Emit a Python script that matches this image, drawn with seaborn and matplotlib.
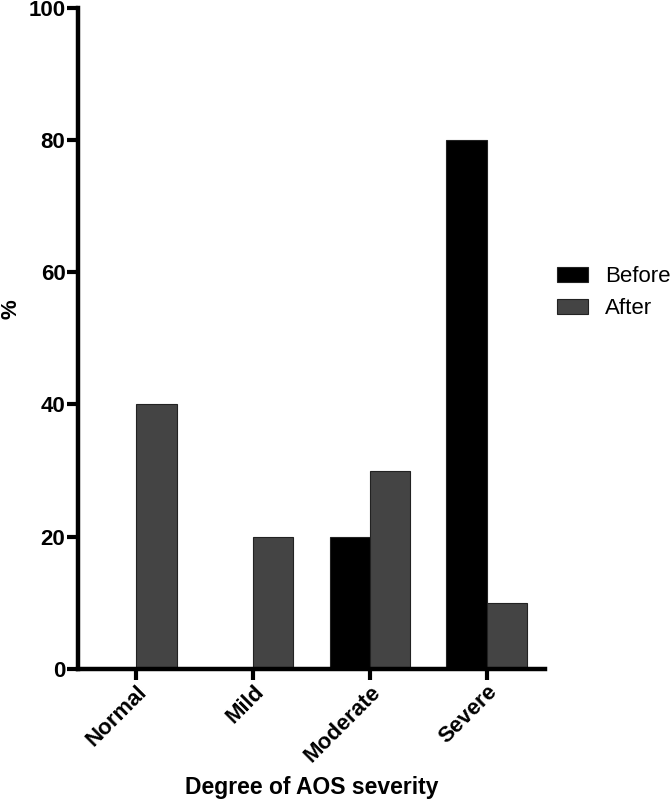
import numpy as np
import pandas as pd
import matplotlib
matplotlib.use("Agg")
import matplotlib.pyplot as plt
import seaborn as sns

categories = ["Normal", "Mild", "Moderate", "Severe"]
before = [0, 0, 20, 80]
after = [40, 20, 30, 10]
groups = ["Before", "After"]

df = pd.DataFrame({
    "category": categories * 2,
    "value": before + after,
    "group": ["Before"] * 4 + ["After"] * 4,
})

sns.set_style("white")
plt.rcParams["font.family"] = ["Liberation Sans", "DejaVu Sans"]
plt.rcParams["text.color"] = "black"
plt.rcParams["axes.labelcolor"] = "black"
plt.rcParams["xtick.color"] = "black"
plt.rcParams["ytick.color"] = "black"

fig = plt.figure(figsize=(6.72, 8), dpi=100)
ax = fig.add_axes([0.116, 0.164, 0.695, 0.826])

sns.barplot(data=df, x="category", y="value", hue="group", hue_order=groups,
            palette={"Before": "#000000", "After": "#444444"},
            width=0.69, edgecolor="#222222", linewidth=0.8, ax=ax)

ax.set_ylim(0, 100)
ax.set_xlim(-0.5, 3.5)
ax.set_yticks([0, 20, 40, 60, 80, 100])
sns.despine(ax=ax)
for side in ["left", "bottom"]:
    ax.spines[side].set_linewidth(3.2)
    ax.spines[side].set_color("black")
ax.tick_params(axis="both", direction="out", length=8, width=3, colors="black",
               labelsize=16, bottom=True, left=True, pad=1)
plt.setp(ax.get_xticklabels(), rotation=45, ha="right", rotation_mode="anchor",
         fontweight="bold")
plt.setp(ax.get_yticklabels(), fontweight="bold")

ax.set_xlabel("Degree of AOS severity", fontsize=16.5, fontweight="bold")
ax.xaxis.label.set_va("center")
ax.xaxis.set_label_coords(0.5, -0.18)
ax.set_ylabel("%", fontsize=16, fontweight="bold")
ax.yaxis.label.set_va("center")
ax.yaxis.set_label_coords(-0.143, 0.545)

ax.legend(loc="center left", bbox_to_anchor=(1.026, 0.569), frameon=False,
          fontsize=16, handlelength=1.4, handleheight=0.7, labelspacing=0.5,
          handletextpad=0.75, borderaxespad=0, borderpad=0)

fig.savefig("out.png", dpi=100)
